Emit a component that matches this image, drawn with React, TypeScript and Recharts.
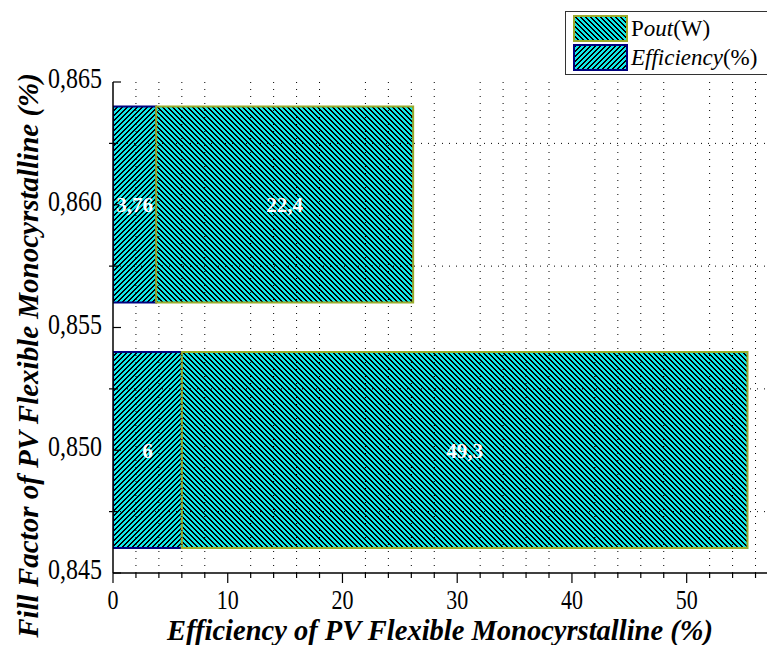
import React from "react";
import { BarChart, Bar, XAxis, YAxis, ReferenceLine, LabelList } from "recharts";

const fillFactors = [0.86, 0.85];
const efficiency = [3.76, 6];
const pout = [22.4, 49.3];

const xTicks = [0, 2, 4, 6, 8, 10, 12, 14, 16, 18, 20, 22, 24, 26, 28, 30, 32, 34, 36, 38, 40, 42, 44, 46, 48, 50, 52, 54, 56];
const yTicks = [0.845, 0.8475, 0.85, 0.8525, 0.855, 0.8575, 0.86, 0.8625, 0.865];
const xGrid = [2, 4, 6, 8, 12, 14, 16, 18, 22, 24, 26, 28, 32, 34, 36, 38, 42, 44, 46, 48, 52, 54, 56];
const yGrid = [0.8475, 0.8525, 0.8575, 0.8625];

const data = fillFactors.map((ff, i) => ({ ff, eff: efficiency[i], pout: pout[i] }));

const SERIF = "'Liberation Serif', 'Times New Roman', serif";
const CYAN = "#10e8e8";
const P = 5; // hatch period in px
const comma = (v: any) => String(v).replace(".", ",");
const isMajorX = (v: number) => Math.abs(v % 10) < 1e-6;
const isMajorY = (v: number) => Math.abs(Math.round(v * 10000) % 50) < 1e-6;

// pixel-aligned diagonal hatch, "\" when back is true, "/" otherwise
const Hatch = ({ id, back }: { id: string; back: boolean }) => {
  const rows = [0, 1, 2, 3, 4];
  return (
    <pattern id={id} patternUnits="userSpaceOnUse" width={P} height={P}>
      <rect width={P} height={P} fill={CYAN} />
      {rows.map((r) => {
        const c = back ? r : P - 1 - r;
        return (
          <g key={r} shapeRendering="crispEdges">
            <rect x={c} y={r} width={1} height={1} fill="#000" />
            <rect x={(c + (back ? 1 : -1) + P) % P} y={r} width={1} height={1} fill="#000" />
          </g>
        );
      })}
    </pattern>
  );
};

const BottomTick = (props: any) => {
  const { x, y, payload } = props;
  const major = isMajorX(payload.value);
  return (
    <g>
      <line x1={x} x2={x} y1={y} y2={y + (major ? 10 : 5)} stroke="#000" strokeWidth={1.2} />
      {major && (
        <text
          transform={`translate(${x},${y + 36}) scale(1,1.27)`}
          textAnchor="middle"
          fontFamily={SERIF}
          fontSize={22}
          fill="#000"
        >
          {payload.value}
        </text>
      )}
    </g>
  );
};

const TopTick = (props: any) => {
  const { x, y, payload } = props;
  const major = isMajorX(payload.value);
  return <line x1={x} x2={x} y1={y} y2={y + (major ? 8 : 4)} stroke="#000" strokeWidth={1.2} />;
};

const LeftTick = (props: any) => {
  const { x, y, payload } = props;
  const major = isMajorY(payload.value);
  return (
    <g>
      {major ? (
        <line x1={x} x2={x + 8} y1={y} y2={y} stroke="#000" strokeWidth={1.2} />
      ) : (
        <line x1={x - 4} x2={x + 5} y1={y} y2={y} stroke="#000" strokeWidth={1.2} />
      )}
      {major && (
        <text
          transform={`translate(${x - 11},${y + 6}) scale(1,1.25)`}
          textAnchor="end"
          fontFamily={SERIF}
          fontSize={24}
          fill="#000"
        >
          {comma(payload.value.toFixed(3))}
        </text>
      )}
    </g>
  );
};

const XTitle = (props: any) => {
  const { x, y, width } = props.viewBox;
  return (
    <text
      transform={`translate(${x + width / 2},${y + 67}) scale(1,1.05)`}
      textAnchor="middle"
      fontFamily={SERIF}
      fontSize={28.5}
      fontWeight="bold"
      fontStyle="italic"
      fill="#000"
    >
      Efficiency of PV Flexible Monocyrstalline (%)
    </text>
  );
};

const YTitle = (props: any) => {
  const { y, height } = props.viewBox;
  return (
    <text
      transform={`translate(38,${y + height / 2 + 28}) rotate(-90) scale(1,1.05)`}
      textAnchor="middle"
      fontFamily={SERIF}
      fontSize={29}
      fontWeight="bold"
      fontStyle="italic"
      fill="#000"
    >
      Fill Factor of PV Flexible Monocyrstalline (%)
    </text>
  );
};

const Swatch = ({ pattern, border }: { pattern: string; border: string }) => (
  <svg width={55} height={27} style={{ display: "block" }}>
    <rect x={1} y={1} width={53} height={25} fill={`url(#${pattern})`} stroke={border} strokeWidth={2} />
  </svg>
);

const LegendBox = () => (
  <div
    style={{
      position: "absolute",
      left: 565,
      top: 11,
      width: 202,
      height: 64,
      borderLeft: "1.5px solid #333",
      borderTop: "1.5px solid #333",
      borderBottom: "1.5px solid #333",
      boxSizing: "border-box",
      fontFamily: SERIF,
      fontSize: 23,
      color: "#000",
      padding: "2px 0 0 7px",
    }}
  >
    <div style={{ display: "flex", alignItems: "center", height: 29, gap: 3 }}>
      <Swatch pattern="hatchPout" border="#9aaa2c" />
      <span>
        P<i>out</i>(W)
      </span>
    </div>
    <div style={{ display: "flex", alignItems: "center", height: 29, gap: 3 }}>
      <Swatch pattern="hatchEff" border="#000080" />
      <span>
        <i>Efficiency</i>(%)
      </span>
    </div>
  </div>
);

export default function App() {
  return (
    <div style={{ position: "absolute", left: 0, top: 0, width: 767, height: 645, background: "#fff" }}>
      <BarChart
        width={767}
        height={645}
        data={data}
        layout="vertical"
        barCategoryGap="10%"
        margin={{ top: 82, right: 0, bottom: 0, left: 0 }}
      >
        <defs>
          <Hatch id="hatchPout" back={true} />
          <Hatch id="hatchEff" back={false} />
        </defs>
        <XAxis
          type="number"
          dataKey="eff"
          domain={[0, 57]}
          ticks={xTicks}
          interval={0}
          allowDataOverflow
          height={72}
          tickSize={0}
          tickMargin={0}
          tickLine={false}
          tick={<BottomTick />}
          axisLine={{ stroke: "#000", strokeWidth: 1.5 }}
          label={<XTitle />}
        />
        <XAxis
          xAxisId="top"
          orientation="top"
          type="number"
          domain={[0, 57]}
          ticks={xTicks}
          interval={0}
          allowDataOverflow
          height={0}
          tickSize={0}
          tickMargin={0}
          tickLine={false}
          tick={<TopTick />}
          axisLine={{ stroke: "#000", strokeWidth: 1.5 }}
        />
        <YAxis
          type="number"
          dataKey="ff"
          domain={[0.845, 0.865]}
          ticks={yTicks}
          interval={0}
          reversed
          allowDataOverflow
          width={113}
          tickSize={0}
          tickMargin={0}
          tickLine={false}
          tick={<LeftTick />}
          axisLine={{ stroke: "#000", strokeWidth: 1.5 }}
          label={<YTitle />}
        />
        {xGrid.map((v) => (
          <ReferenceLine key={`gx${v}`} x={v} stroke="#000" strokeWidth={1} strokeDasharray="1 6" />
        ))}
        {yGrid.map((v) => (
          <ReferenceLine key={`gy${v}`} y={v} stroke="#000" strokeWidth={1} strokeDasharray="1 6" />
        ))}
        <Bar dataKey="eff" stackId="a" fill="url(#hatchEff)" stroke="#000080" strokeWidth={2} isAnimationActive={false}>
          <LabelList
            dataKey="eff"
            position="center"
            formatter={comma}
            fill="#fff"
            fontFamily={SERIF}
            fontWeight="bold"
            fontSize={21}
          />
        </Bar>
        <Bar dataKey="pout" stackId="a" fill="url(#hatchPout)" stroke="#9aaa2c" strokeWidth={2} isAnimationActive={false}>
          <LabelList
            dataKey="pout"
            position="center"
            formatter={comma}
            fill="#fff"
            fontFamily={SERIF}
            fontWeight="bold"
            fontSize={21}
          />
        </Bar>
      </BarChart>
      <LegendBox />
    </div>
  );
}
